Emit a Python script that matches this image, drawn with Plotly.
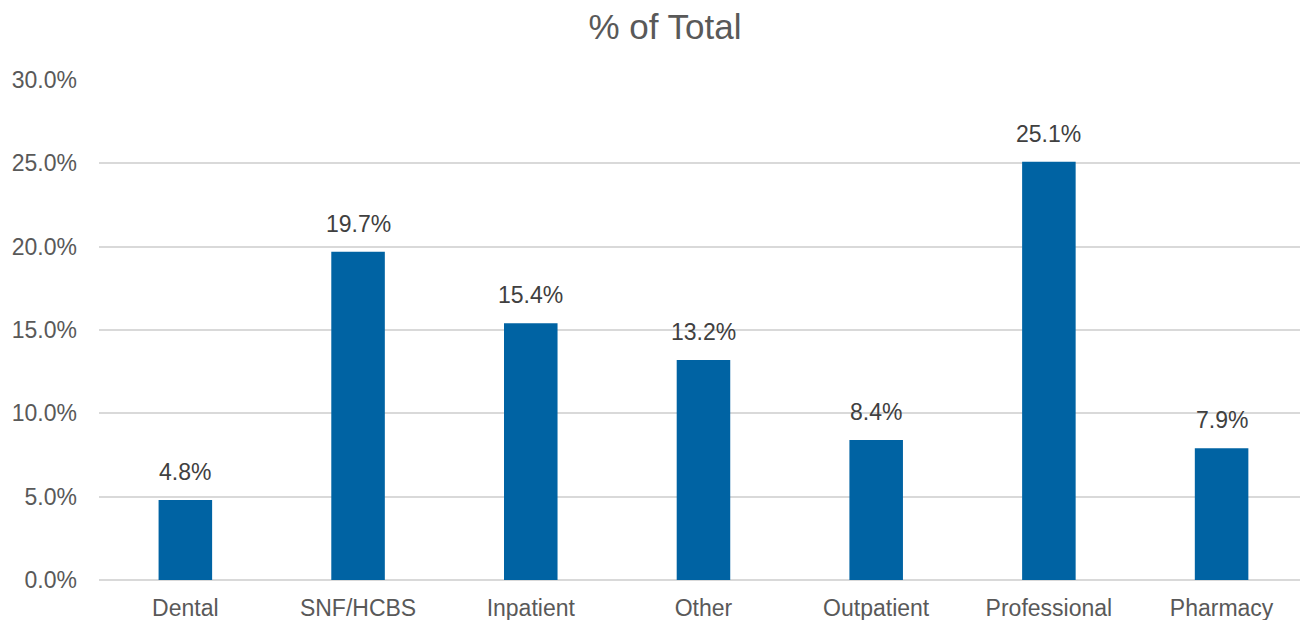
import plotly.graph_objects as go

categories = ["Dental", "SNF/HCBS", "Inpatient", "Other", "Outpatient", "Professional", "Pharmacy"]
values = [4.8, 19.7, 15.4, 13.2, 8.4, 25.1, 7.9]
y_ticks = [0, 5, 10, 15, 20, 25, 30]
y_tick_labels = [f"{v:.1f}%" for v in y_ticks]

FONT = "Arial, 'Liberation Sans', sans-serif"
BAR = "#0063A3"

fig = go.Figure()
fig.add_trace(go.Bar(
    x=categories, y=values, width=0.31,
    marker=dict(color=BAR, line=dict(width=0)),
    hoverinfo="x+y",
))
for c, v in zip(categories, values):
    fig.add_annotation(x=c, y=v, text=f"{v:.1f}%", showarrow=False,
                       yanchor="bottom", yshift=13,
                       font=dict(family=FONT, size=23, color="#404040"))

fig.update_layout(
    width=1300, height=620,
    margin=dict(l=99, r=0, t=80, b=40),
    paper_bgcolor="white", plot_bgcolor="white",
    showlegend=False,
    title=dict(text="% of Total", x=665 / 1300, xref="container", xanchor="center",
               y=1 - 27 / 620, yanchor="middle",
               font=dict(family=FONT, size=35, color="#595959")),
    xaxis=dict(range=[-0.5, 6.454], showgrid=False, showline=False, zeroline=False,
               tickfont=dict(family=FONT, size=23, color="#595959"),
               ticks="", ticklabelstandoff=12, fixedrange=True),
    yaxis=dict(range=[0, 30], tickvals=y_ticks, ticktext=y_tick_labels,
               showgrid=True, gridcolor="#D9D9D9", gridwidth=2,
               zeroline=True, zerolinecolor="#D9D9D9", zerolinewidth=2,
               showline=False, ticks="",
               tickfont=dict(family=FONT, size=23, color="#595959"),
               ticklabelstandoff=21, fixedrange=True),
)

fig.write_html("out.html")
